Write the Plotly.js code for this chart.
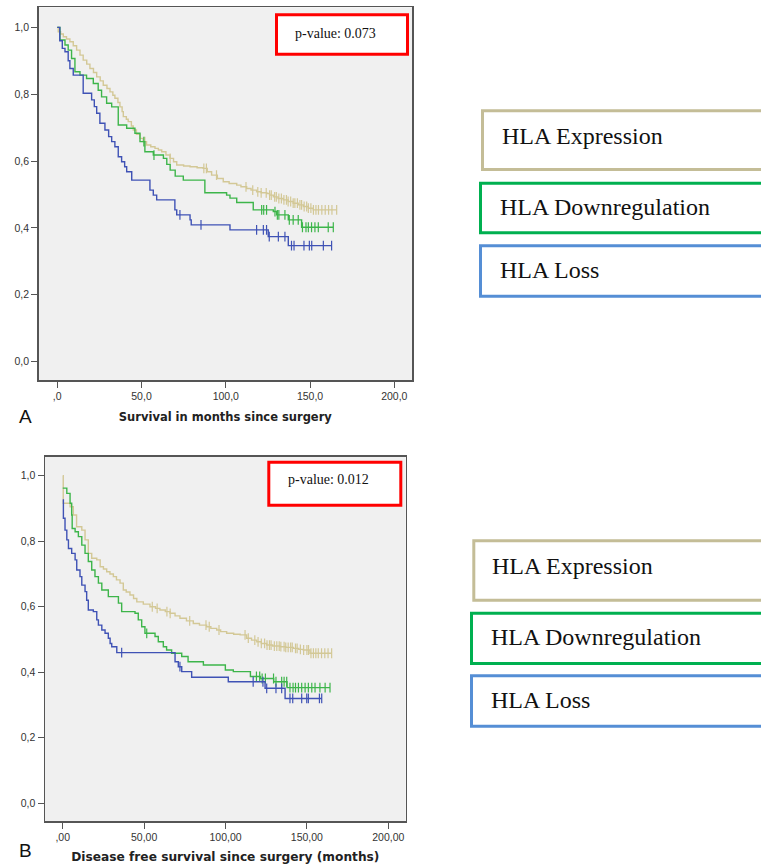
<!DOCTYPE html>
<html>
<head>
<meta charset="utf-8">
<script src="https://cdn.plot.ly/plotly-3.0.1.min.js"></script>
<style>html,body{margin:0;padding:0;background:#fff;}#chart{width:761px;height:865px;}</style>
</head>
<body>
<div id="chart"></div>
<script>
// ---------- DATA ----------
const groupNames = ["HLA Expression", "HLA Downregulation", "HLA Loss"];

// Panel A: overall survival
const A_exp_t = [0,0.6,2,3.6,5.5,7.5,9.5,11.5,13.5,15.4,17.5,19.4,21.5,23.4,25.5,27.3,29.5,31.3,33,34.2,36,37.2,38.5,39.2,41,42.1,44,45.1,47,49.1,51,53,55.5,58,60,62,64.5,66.9,69,70.9,75,78.8,83,86.6,89,91.6,95,98.5,102,106.5,109,112.4,115,118.3,121,124.3,126,128.2,131,134.1,137,140,143,146,149,151.9];
const A_exp_s = [1.0,.987,.980,.972,.965,.957,.945,.932,.917,.902,.890,.877,.865,.852,.840,.827,.817,.807,.797,.788,.775,.762,.748,.733,.725,.718,.705,.693,.680,.668,.658,.648,.643,.638,.633,.628,.618,.608,.598,.588,.585,.583,.580,.578,.568,.558,.548,.538,.533,.528,.523,.518,.513,.508,.505,.503,.498,.493,.488,.484,.479,.474,.469,.464,.459,.454];
const A_exp_c = [52,67,87,88.5,94.5,112,116,119,121,124,126,127,129,130,131.5,133,134.5,136,137,138.5,140,141,142.5,144,145,146.5,148,149,150.5,152,153.5,155,157,159,161,163,165.8];

const A_down_t = [0,1.6,4.6,6.5,8.5,10.5,13.5,17.4,21.4,24.3,26.3,29.3,32.3,36.2,41.2,46.1,49.1,52,57,63,65,67,70,74.8,87.6,100.5,102.5,106.5,116.3,128.2,130.2,137.1,145];
const A_down_s = [1.0,.962,.947,.932,.907,.867,.857,.847,.832,.812,.792,.773,.762,.708,.698,.683,.658,.628,.618,.608,.590,.573,.555,.543,.505,.498,.489,.476,.454,.449,.439,.424,.402];
const A_down_c = [51.4,57.4,121.3,122.5,124.2,129.2,130.6,131.5,135.1,137.7,140,143,145.5,147.6,149,150.9,152.9,154.9,160.8,163.8];

const A_loss_t = [0,1.5,3,4.6,6.5,7.5,9.5,15.4,20.4,22,23.4,25.3,28.3,30.5,32.3,34.2,36.2,38.2,40,41.2,44.2,55,57,59,69.8,70.9,78.8,79.5,102.5,125.2,137.1];
const A_loss_s = [1.0,.960,.937,.927,.900,.877,.857,.803,.783,.763,.743,.713,.693,.673,.658,.643,.613,.598,.583,.568,.543,.513,.498,.484,.454,.439,.424,.409,.394,.374,.347];
const A_loss_c = [72.8,85.3,118.3,122.3,124.2,125.8,131.2,135.1,139,140.5,146.4,149.6,151,157.9,162.8];

// Panel B: disease free survival
const B_exp_t = [0,0.3,4.5,6.5,8.5,11.7,13.7,15.7,17.8,20.9,23,25,27,29,31.1,33,35.2,37.2,39,41.3,43.5,45.5,49.5,53.6,57,59.7,63,65.9,69,72,76,80.2,84,88.4,91,94.6,97,100.7,105,109,113,116,119.2,122,125.3,129,133.5,137,141.7,145,147.8,151.9];
const B_exp_s = [1.0,.916,.905,.880,.844,.834,.804,.763,.748,.743,.722,.715,.707,.700,.692,.682,.672,.651,.645,.636,.625,.615,.608,.600,.595,.590,.585,.580,.572,.565,.557,.549,.544,.539,.534,.529,.524,.519,.516,.514,.504,.498,.493,.488,.483,.480,.478,.476,.473,.470,.468,.458];
const B_exp_c = [55,58,64,66,78,88,90,96,112,114,118,120,122,124,125.5,127,128,130,131.5,133,134,136,137,138.5,140,141,143,144,146,148,150,151,152.5,154,155.5,157,159,161,163,165.2];

const B_down_t = [0,2.5,4.5,5.5,5.8,7.6,9.6,11.7,13.7,15.7,17.8,19.8,21.9,24,28,34.2,36.2,44.4,46.4,48.5,50.5,56.7,58.7,61.8,63.8,66.9,73.1,77,86.4,99.9,104.8,115.3,121.4,129.6,137.8];
const B_down_s = [.962,.946,.916,.880,.839,.829,.814,.788,.763,.738,.712,.692,.672,.651,.631,.611,.585,.580,.560,.539,.519,.509,.493,.478,.468,.458,.448,.432,.422,.407,.402,.387,.381,.371,.353];
const B_down_c = [51.6,119,121,122.5,124.5,129.5,131,134.5,136,137.6,139.6,141.5,143,144.8,146.8,148.9,150.9,153,155,158,161.2,164.2];

const B_loss_t = [0,0.4,1.4,2.5,3.5,5.5,7.6,8.6,10.6,11.7,13.7,14.7,15.7,18.8,20.9,21.9,24,26,28,29.1,30.1,33.2,69,71,73.1,79.2,101.7,124.3,136.6];
const B_loss_s = [.926,.870,.834,.804,.778,.763,.743,.712,.692,.666,.646,.620,.590,.585,.560,.544,.529,.519,.504,.488,.478,.460,.432,.417,.402,.385,.371,.351,.320];
const B_loss_c = [36.2,72,117,123,125.3,131,134.5,139.6,141.3,146.8,149.9,150.9,157.7,159.1];

const A_xtickvals = [0,50,100,150,200];
const A_xticktext = [",0","50,0","100,0","150,0","200,0"];
const B_xtickvals = [0,50,100,150,200];
const B_xticktext = [",00","50,00","100,00","150,00","200,00"];
const ytickvals = [0,0.2,0.4,0.6,0.8,1.0];
const yticktext = ["0,0","0,2","0,4","0,6","0,8","1,0"];
const pvalA = "p-value: 0.073";
const pvalB = "p-value: 0.012";

// ---------- STYLE ----------
const W = 761, H = 865;
const fx = p => p / W;
const fy = p => 1 - p / H;
const lineColors = ["#D3C896", "#3DB54A", "#3F52B5"];
const boxColors = ["#C4BD97", "#00B050", "#558ED5"];

function survAt(t, ts, ss) {
  let v = ss[0];
  for (let i = 0; i < ts.length; i++) if (ts[i] <= t) v = ss[i];
  return v;
}
function curveTraces(ts, ss, cs, color, xa, ya, name) {
  const lastC = Math.max.apply(null, cs);
  const xs = ts.slice(), ys = ss.slice();
  if (lastC > xs[xs.length - 1]) { xs.push(lastC); ys.push(ss[ss.length - 1]); }
  return [
    {x: xs, y: ys, type: "scatter", mode: "lines", line: {shape: "hv", color: color, width: 1.4},
     xaxis: xa, yaxis: ya, name: name, showlegend: false, hoverinfo: "skip"},
    {x: cs, y: cs.map(t => survAt(t, ts, ss)), type: "scatter", mode: "markers",
     marker: {symbol: "line-ns-open", size: 7, color: color, line: {color: color, width: 1.2}},
     xaxis: xa, yaxis: ya, name: name + " censored", showlegend: false, hoverinfo: "skip"}
  ];
}

let data = [];
data = data.concat(curveTraces(A_exp_t, A_exp_s, A_exp_c, lineColors[0], "x", "y", groupNames[0]));
data = data.concat(curveTraces(A_down_t, A_down_s, A_down_c, lineColors[1], "x", "y", groupNames[1]));
data = data.concat(curveTraces(A_loss_t, A_loss_s, A_loss_c, lineColors[2], "x", "y", groupNames[2]));
data = data.concat(curveTraces(B_exp_t, B_exp_s, B_exp_c, lineColors[0], "x2", "y2", groupNames[0]));
data = data.concat(curveTraces(B_down_t, B_down_s, B_down_c, lineColors[1], "x2", "y2", groupNames[1]));
data = data.concat(curveTraces(B_loss_t, B_loss_s, B_loss_c, lineColors[2], "x2", "y2", groupNames[2]));

const tickFont = {family: "Liberation Sans, Arial, sans-serif", size: 10.5, color: "#333"};
function axisBase() {
  return {showgrid: false, zeroline: false, showline: true, mirror: true, linecolor: "#555", linewidth: 1.5,
          ticks: "outside", ticklen: 6, tickwidth: 1, tickcolor: "#555", tickfont: tickFont, fixedrange: true};
}

const layout = {
  width: W, height: H, margin: {l: 0, r: 0, t: 0, b: 0},
  paper_bgcolor: "#ffffff", plot_bgcolor: "#F0F0F0", showlegend: false,
  xaxis: Object.assign(axisBase(), {domain: [fx(38.7), fx(412)], anchor: "y", range: [-11, 210.5],
    tickvals: A_xtickvals, ticktext: A_xticktext,
    title: {text: "Survival in months since surgery", standoff: 12,
            font: {family: "DejaVu Sans, Verdana, sans-serif", size: 11.5, color: "#222", weight: "bold"}}}),
  yaxis: Object.assign(axisBase(), {domain: [fy(380), fy(7.3)], anchor: "x", range: [-0.055, 1.06],
    tickvals: ytickvals, ticktext: yticktext}),
  xaxis2: Object.assign(axisBase(), {domain: [fx(45), fx(405.7)], anchor: "y2", range: [-10.9, 210.7],
    tickvals: B_xtickvals, ticktext: B_xticktext,
    title: {text: "Disease free survival since surgery (months)", standoff: 10,
            font: {family: "DejaVu Sans, Verdana, sans-serif", size: 12.2, color: "#222", weight: "bold"}}}),
  yaxis2: Object.assign(axisBase(), {domain: [fy(821), fy(456.7)], anchor: "x2", range: [-0.054, 1.058],
    tickvals: ytickvals, ticktext: yticktext}),
  shapes: [],
  annotations: []
};

// p-value boxes
function pBox(x0, y0, x1, y1, tx, ty, text) {
  layout.shapes.push({type: "rect", xref: "paper", yref: "paper", x0: fx(x0), x1: fx(x1), y0: fy(y0), y1: fy(y1),
    line: {color: "#FF0000", width: 3}, fillcolor: "#ffffff", layer: "above"});
  layout.annotations.push({xref: "paper", yref: "paper", x: fx(tx), y: fy(ty), xanchor: "left", yanchor: "middle",
    text: text, showarrow: false, font: {family: "Liberation Serif, Times New Roman, serif", size: 14, color: "#111"}});
}
pBox(276.5, 14.8, 407.5, 54.2, 293, 33, pvalA);
pBox(268.8, 462.2, 400.8, 505.2, 286, 480, pvalB);

// legend boxes
function legBox(x0, y0, y1, tx, ty, text, color) {
  layout.shapes.push({type: "rect", xref: "paper", yref: "paper", x0: fx(x0), x1: fx(775), y0: fy(y0), y1: fy(y1),
    line: {color: color, width: 3}, fillcolor: "#ffffff", layer: "above"});
  layout.annotations.push({xref: "paper", yref: "paper", x: fx(tx), y: fy(ty), xanchor: "left", yanchor: "middle",
    text: text, showarrow: false, font: {family: "Liberation Serif, Times New Roman, serif", size: 24, color: "#111"}});
}
legBox(482.5, 110.8, 169.5, 500, 136, groupNames[0], boxColors[0]);
legBox(480.5, 183.2, 232.8, 498, 207, groupNames[1], boxColors[1]);
legBox(480.5, 245.8, 296.2, 498, 270, groupNames[2], boxColors[2]);
legBox(473.8, 540.8, 600.2, 490, 566, groupNames[0], boxColors[0]);
legBox(471.5, 613.2, 663.5, 489, 637, groupNames[1], boxColors[1]);
legBox(471.5, 675.8, 726.2, 489, 700, groupNames[2], boxColors[2]);

// panel letters
layout.annotations.push({xref: "paper", yref: "paper", x: fx(25), y: fy(416), xanchor: "center", yanchor: "middle",
  text: "A", showarrow: false, font: {family: "Liberation Sans, Arial, sans-serif", size: 19, color: "#111"}});
layout.annotations.push({xref: "paper", yref: "paper", x: fx(25), y: fy(850), xanchor: "center", yanchor: "middle",
  text: "B", showarrow: false, font: {family: "Liberation Sans, Arial, sans-serif", size: 19, color: "#111"}});

Plotly.newPlot("chart", data, layout, {staticPlot: true, displayModeBar: false});
</script>
</body>
</html>
